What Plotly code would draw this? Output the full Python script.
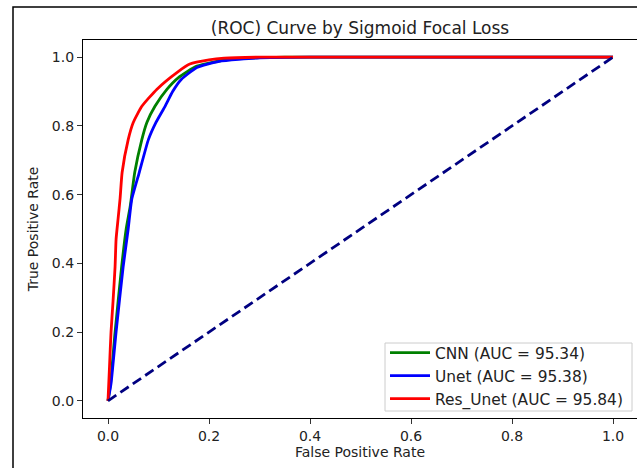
import plotly.graph_objects as go

# ---- data ----
cnn_fpr = [0.0, 0.005, 0.014, 0.027, 0.036, 0.044, 0.053, 0.067, 0.077, 0.093, 0.117, 0.139, 0.176, 0.24, 0.35, 1.0]
cnn_tpr = [0.0, 0.05, 0.20, 0.39, 0.50, 0.566, 0.665, 0.76, 0.81, 0.857, 0.907, 0.94, 0.974, 0.994, 1.0, 1.0]

unet_fpr = [0.0, 0.006, 0.016, 0.030, 0.040, 0.047, 0.062, 0.080, 0.095, 0.113, 0.128, 0.145, 0.176, 0.22, 0.30, 0.40, 1.0]
unet_tpr = [0.0, 0.05, 0.20, 0.39, 0.50, 0.586, 0.665, 0.76, 0.81, 0.857, 0.90, 0.935, 0.97, 0.988, 0.998, 1.0, 1.0]

res_fpr = [0.0, 0.003, 0.006, 0.010, 0.014, 0.016, 0.020, 0.024, 0.028, 0.040, 0.050, 0.067, 0.097, 0.137, 0.162, 0.20, 0.23, 0.30, 1.0]
res_tpr = [0.0, 0.10, 0.20, 0.29, 0.39, 0.47, 0.53, 0.59, 0.665, 0.76, 0.81, 0.857, 0.907, 0.956, 0.98, 0.992, 0.997, 1.0, 1.0]

chance_x = [0.0, 1.0]
chance_y = [0.0, 1.0]

labels = ["CNN (AUC = 95.34)", "Unet (AUC = 95.38)", "Res_Unet (AUC = 95.84)"]
colors = ["#008000", "#0000ff", "#ff0000"]
x_ticks = [0.0, 0.2, 0.4, 0.6, 0.8, 1.0]
y_ticks = [0.0, 0.2, 0.4, 0.6, 0.8, 1.0]

FONT = "DejaVu Sans"

fig = go.Figure()
for fx, ty, lab, col in zip([cnn_fpr, unet_fpr, res_fpr], [cnn_tpr, unet_tpr, res_tpr], labels, colors):
    fig.add_trace(go.Scatter(x=fx, y=ty, mode="lines", name=lab,
                             line=dict(color=col, width=2.8, shape="spline", smoothing=0.5)))
fig.add_trace(go.Scatter(x=chance_x, y=chance_y, mode="lines", showlegend=False,
                         line=dict(color="#000080", width=2.8, dash="10px,5px")))

axis_common = dict(showline=True, linecolor="black", linewidth=1.2, mirror=True,
                   ticks="outside", ticklen=5, tickwidth=1.2, tickcolor="#333333",
                   showgrid=False, zeroline=False, tickformat=".1f", automargin=False,
                   tickfont=dict(family=FONT, size=14, color="#222222"))

fig.update_layout(
    width=637, height=468,
    margin=dict(l=83, r=0, t=40, b=50, autoexpand=False),
    paper_bgcolor="white", plot_bgcolor="white",
    font=dict(family=FONT, size=14, color="#222222"),
    title=dict(text="(ROC) Curve by Sigmoid Focal Loss", x=0.5, xref="paper", xanchor="center",
               y=1 - 28 / 468, yanchor="middle", automargin=False,
               font=dict(family=FONT, size=17, color="#222222")),
    xaxis=dict(range=[-0.0495, 1.0475], tickvals=x_ticks,
               title=dict(text="False Positive Rate", standoff=0, font=dict(family=FONT, size=14)),
               **axis_common),
    yaxis=dict(range=[-0.05, 1.05], tickvals=y_ticks,
               title=dict(text="True Positive Rate", standoff=9, font=dict(family=FONT, size=14)),
               **axis_common),
    legend=dict(x=(385 - 83) / 554, y=0.005, xanchor="left", yanchor="bottom",
                bgcolor="rgba(0,0,0,0)", borderwidth=0,
                font=dict(family=FONT, size=15.4, color="#222222"), itemwidth=40,
                tracegroupgap=0),
    shapes=[
        # outer figure frame
        dict(type="rect", xref="paper", yref="paper",
             x0=(13 - 83) / 554, x1=1.2, y0=-0.3, y1=(418 - 7) / 378,
             line=dict(color="black", width=1.5), fillcolor="rgba(0,0,0,0)", layer="above"),
        # legend frame
        dict(type="rect", xref="paper", yref="paper",
             x0=(385 - 83) / 554, x1=(632 - 83) / 554,
             y0=(418 - 411) / 378, y1=(418 - 343) / 378,
             line=dict(color="#cccccc", width=1), fillcolor="rgba(255,255,255,0.8)", layer="above"),
    ],
)

fig.write_html("out.html", config={"displayModeBar": False},
               post_script="document.body.style.margin='0';document.body.style.padding='0';")
